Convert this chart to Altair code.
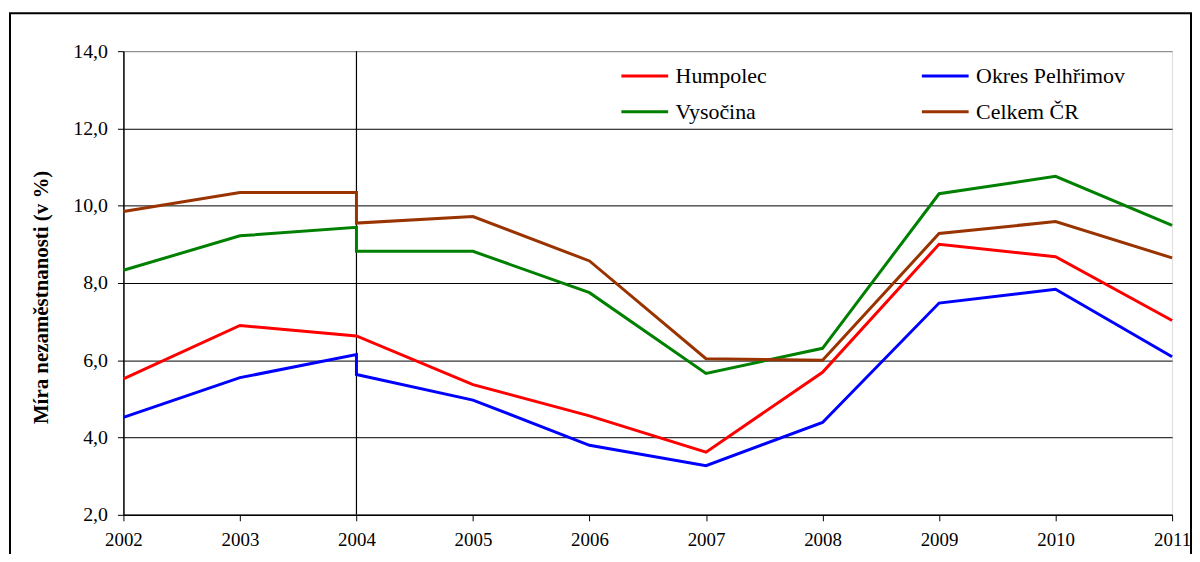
import altair as alt
import pandas as pd

years = [2002, 2003, 2004, 2004, 2005, 2006, 2007, 2008, 2009, 2010, 2011]
humpolec = [5.52, 6.90, 6.63, 6.63, 5.37, 4.56, 3.62, 5.69, 9.00, 8.68, 7.03]
okres = [4.52, 5.55, 6.15, 5.63, 4.97, 3.80, 3.27, 4.39, 7.48, 7.84, 6.09]
vysocina = [8.33, 9.22, 9.44, 8.82, 8.82, 7.75, 5.66, 6.31, 10.31, 10.76, 9.49]
celkem = [9.85, 10.34, 10.34, 9.55, 9.72, 8.57, 6.04, 6.00, 9.28, 9.59, 8.65]

series_names = ["Humpolec", "Okres Pelhřimov", "Vysočina", "Celkem ČR"]
series_values = [humpolec, okres, vysocina, celkem]
colors = ["#FF0000", "#0000FF", "#008000", "#993300"]
# legend is filled column by column: this order gives two rows of two
legend_order = ["Humpolec", "Vysočina", "Okres Pelhřimov", "Celkem ČR"]
x_ticks = [2002, 2003, 2004, 2005, 2006, 2007, 2008, 2009, 2010, 2011]
y_ticks = [2, 4, 6, 8, 10, 12, 14]
break_year = 2004

rows = []
for name, vals in zip(series_names, series_values):
    for i, (yr, v) in enumerate(zip(years, vals)):
        rows.append({"rok": yr, "hodnota": v, "rada": name, "i": i})
df = pd.DataFrame(rows)

FONT = "Liberation Serif, Times New Roman, serif"
W, H = 1054, 466
color_of = dict(zip(series_names, colors))

x_scale = alt.Scale(domain=[2002, 2011], nice=False, zero=False)

x_enc = alt.X(
    "rok:Q",
    scale=x_scale,
    axis=alt.Axis(
        values=x_ticks, format="d", title=None, grid=False,
        domainColor="black", domainWidth=1.5, tickColor="black", tickSize=6,
        labelFont=FONT, labelFontSize=19, labelColor="black", labelPadding=10,
        labelFlush=False, labelOverlap=False,
    ),
)
y_enc = alt.Y(
    "hodnota:Q",
    scale=alt.Scale(domain=[2, 14], nice=False, zero=False),
    axis=alt.Axis(
        values=y_ticks,
        labelExpr="replace(format(datum.value, '.1f'), '.', ',')",
        title="Míra nezaměstnanosti (v %)",
        titleFont=FONT, titleFontSize=21, titleFontWeight="bold", titleColor="black",
        titleAngle=270, titleX=-82, titleY=247, titleBaseline="middle", titleAlign="center",
        labelFont=FONT, labelFontSize=20, labelColor="black", labelPadding=10,
        domainColor="black", domainWidth=1.5, tickColor="black", tickSize=6,
        grid=True,
        gridColor={"condition": {"test": "datum.value >= 14", "value": "#808080"}, "value": "black"},
        gridWidth=1, gridOpacity=1,
    ),
)

frame = alt.Chart(alt.Data(values=[{}])).mark_rect(
    fill=None, stroke="black", strokeWidth=2
).encode(
    x=alt.value(-114), x2=alt.value(1073), y=alt.value(-38), y2=alt.value(530)
)

vrule = alt.Chart(alt.Data(values=[{}])).mark_rule(color="black", strokeWidth=1.2).encode(
    x=alt.datum(break_year, type="quantitative", scale=x_scale)
)

lines = alt.Chart(df).mark_line(strokeWidth=3, strokeJoin="miter").encode(
    x=x_enc,
    y=y_enc,
    order=alt.Order("i:Q"),
    color=alt.Color(
        "rada:N",
        scale=alt.Scale(domain=legend_order, range=[color_of[n] for n in legend_order]),
        legend=alt.Legend(
            title=None, orient="none", legendX=499, legendY=0, columns=2,
            columnPadding=149, rowPadding=-2, padding=0,
            symbolType="stroke", symbolSize=2209, symbolStrokeWidth=3,
            labelOffset=6, labelFont=FONT, labelFontSize=22, labelColor="black",
            labelLimit=400,
        ),
    ),
)

chart = alt.layer(frame, vrule, lines).properties(
    width=W, height=H,
    autosize=alt.AutoSizeParams(type="none"),
    padding={"left": 116, "top": 42, "right": 20, "bottom": 38},
).configure_view(stroke="#808080", strokeWidth=1).configure(background="white")

chart.save("out.html", embed_options={"renderer": "svg", "actions": False})
